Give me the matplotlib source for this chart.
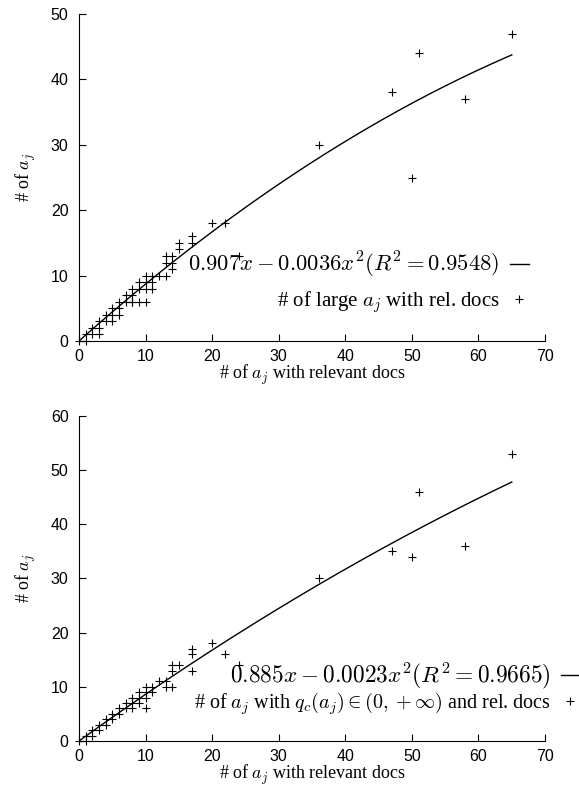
import numpy as np
import matplotlib
matplotlib.use("Agg")
import matplotlib.pyplot as plt

plt.rcParams['font.family'] = ['Liberation Serif', 'DejaVu Serif']
plt.rcParams['mathtext.fontset'] = 'cm'

# top panel: large a_j with relevant docs
x_top = [0, 1, 1, 2, 2, 3, 3, 3, 4, 4, 5, 5, 5, 6, 6, 6, 7, 7, 8, 8, 8, 8, 9, 9, 9,
         10, 10, 10, 10, 11, 11, 11, 12, 13, 13, 13, 14, 14, 14, 15, 15, 17, 17,
         20, 22, 24, 36, 47, 50, 51, 58, 65]
y_top = [0, 1, 0, 2, 1, 2, 3, 1, 4, 3, 5, 4, 3, 6, 5, 4, 7, 6, 8, 7, 6, 6, 9, 8, 6,
         9, 8, 10, 6, 9, 10, 8, 10, 13, 12, 10, 13, 12, 11, 15, 14, 16, 15,
         18, 18, 13, 30, 38, 25, 44, 37, 47]
a_top, b_top, r2_top = 0.907, 0.0036, 0.9548

# bottom panel: a_j with q_c(a_j) in (0, +inf)
x_bot = [0, 1, 1, 2, 2, 3, 3, 4, 4, 5, 5, 6, 6, 7, 7, 8, 8, 8, 9, 9, 9,
         10, 10, 10, 10, 11, 11, 12, 13, 13, 14, 14, 14, 15, 17, 17, 17,
         20, 22, 24, 36, 47, 50, 51, 58, 65]
y_bot = [0, 1, 0, 2, 1, 3, 2, 4, 3, 5, 4, 6, 5, 7, 6, 8, 7, 6, 9, 8, 7,
         10, 9, 8, 6, 10, 9, 11, 11, 10, 14, 13, 10, 14, 17, 16, 13,
         18, 16, 14, 30, 35, 34, 46, 36, 53]
a_bot, b_bot, r2_bot = 0.885, 0.0023, 0.9665

fig = plt.figure(figsize=(5.79, 7.96), dpi=100)
ax1 = fig.add_axes([0.1364, 0.5716, 0.805, 0.4108])
ax2 = fig.add_axes([0.1364, 0.0691, 0.805, 0.4083])


def panel(ax, xs, ys, a, b, r2, ymax, pts_label, anchor, spacing, sizes):
    xf = np.linspace(0, max(xs), 200)
    ax.plot(xf, a * xf - b * xf**2, color='black', lw=1.0,
            label=r'$%.3fx - %.4fx^2(R^2 = %.4f)$' % (a, b, r2))
    ax.plot(xs, ys, '+', color='black', ms=6, mew=0.8, clip_on=False,
            label=pts_label)
    ax.set_xlim(0, 70)
    ax.set_ylim(0, ymax)
    ax.set_xticks(range(0, 71, 10))
    ax.set_yticks(range(0, ymax + 1, 10))
    for s in ['top', 'right']:
        ax.spines[s].set_visible(False)
    ax.tick_params(direction='in', length=5, width=0.8)
    ax.tick_params(axis='y', pad=7.5)
    ax.tick_params(axis='x', pad=6)
    for lab in ax.get_xticklabels() + ax.get_yticklabels():
        lab.set_family(['Liberation Sans', 'DejaVu Sans'])
        lab.set_fontsize(11.5)
    ax.set_xlabel(r'# of $a_j$ with relevant docs', fontsize=13, labelpad=-1)
    ax.set_ylabel(r'# of $a_j$', fontsize=13, labelpad=9)
    leg = ax.legend(loc='lower right', bbox_to_anchor=anchor, frameon=False,
                    markerfirst=False, handlelength=0.9, handletextpad=0.5,
                    fontsize=sizes[1], labelspacing=spacing, borderaxespad=0,
                    borderpad=0)
    leg.get_texts()[0].set_fontsize(sizes[0])


panel(ax1, x_top, y_top, a_top, b_top, r2_top, 50,
      r'# of large $a_j$ with rel. docs', (0.965, 0.08), 0.45, (16.3, 15))
panel(ax2, x_bot, y_bot, a_bot, b_bot, r2_bot, 60,
      r'# of $a_j$ with $q_c(a_j) \in (0, +\infty)$ and rel. docs',
      (1.072, 0.075), -0.05, (16.8, 14.5))

fig.savefig('out.png', dpi=100)
